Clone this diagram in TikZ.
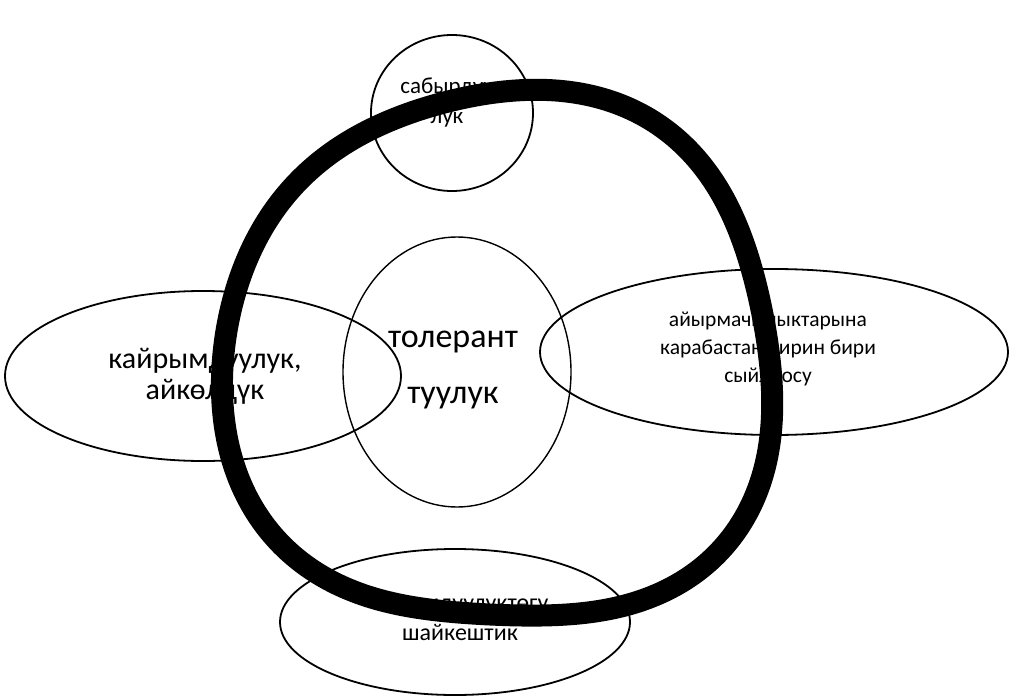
\documentclass[tikz,border=0pt]{standalone}
\usepackage{fontspec}
\setmainfont{Carlito}
\usetikzlibrary{shapes.geometric}
\begin{document}
\begin{tikzpicture}[x=1pt, y=-1pt,
    oval/.style={draw, ellipse, line width=1.8pt, inner sep=0pt},
    lbl/.style={align=center, inner sep=0pt}]
    \useasboundingbox (0,0) rectangle (1012,698);
    % овалдар
    \node[oval, minimum width=162pt, minimum height=156pt] (sabyr) at (452,113) {};
    \node[oval, minimum width=396pt, minimum height=170pt] (kairym) at (203,376) {};
    \node[oval, minimum width=228pt, minimum height=270pt, line width=1.4pt] (toler) at (457,372) {};
    \node[oval, minimum width=468pt, minimum height=166pt] (aiyrma) at (774,352) {};
    \node[oval, minimum width=350pt, minimum height=146pt] (shaik) at (455,622) {};
    
    % тексттер
    \node[lbl, font=\fontsize{23}{30}\selectfont] (sabyrT) at (447,103) {сабырдуу\\лук};
    \node[lbl, font=\fontsize{34}{56}\selectfont] (tolerT) at (453,370) {толерант\\туулук};
    \node[lbl, font=\fontsize{30}{31}\selectfont] (kairymT) at (205,376) {кайрымдуулук,\\айкөлдүк};
    \node[lbl, font=\fontsize{21.5}{28}\selectfont] (aiyrmaT) at (768,349) {айырмачылыктарына\\карабастан бирин бири\\сыйлоосу};
    \node[lbl, font=\fontsize{24}{30}\selectfont] (shaikT) at (460,617) {биримдүүлүктөгү\\шайкештик};
    
    % калың шакек
    \draw[line width=22pt] plot[domain=0:360, samples=181, variable=\t, smooth]
        ({494 + (274 + 7.33*cos(\t) - 9.18*sin(\t) + 5.75*cos(2*\t) + 1.9*sin(2*\t)
                - 5.17*cos(3*\t) - 7.5*sin(3*\t) - 7.25*cos(4*\t) - 1.9*sin(4*\t))*cos(\t)},
         {352 - (274 + 7.33*cos(\t) - 9.18*sin(\t) + 5.75*cos(2*\t) + 1.9*sin(2*\t)
                - 5.17*cos(3*\t) - 7.5*sin(3*\t) - 7.25*cos(4*\t) - 1.9*sin(4*\t))*sin(\t)}) -- cycle;
\end{tikzpicture}
\end{document}
